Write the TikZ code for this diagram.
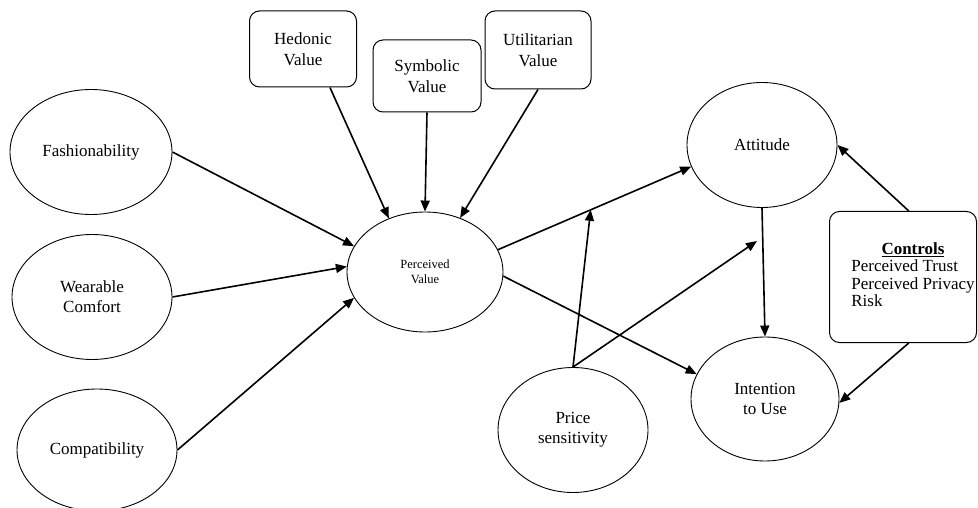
\documentclass[tikz,border=0pt]{standalone}
\usepackage{fontspec}
\setmainfont{Liberation Serif}
\usetikzlibrary{shapes.geometric,arrows.meta,calc}
\begin{document}
\begin{tikzpicture}[x=1pt,y=-1pt,
  ell/.style={draw, ellipse, line width=0.9pt, inner sep=0pt, align=center, font=\fontsize{17}{20}\selectfont},
  vbox/.style={draw, rounded corners=10pt, line width=1pt, inner sep=0pt, align=center, font=\fontsize{17}{21}\selectfont},
  conn/.style={line width=1.6pt, -{Triangle[length=11pt,width=9pt]}}
]
\useasboundingbox (0,0) rectangle (978,508);
% ellipses
\node[ell, minimum width=162pt, minimum height=125pt] (fash) at (91,152) {Fashionability};
\node[ell, minimum width=160pt, minimum height=125pt] (wc) at (92,297) {Wearable\\Comfort};
\node[ell, minimum width=160pt, minimum height=122pt] (comp) at (97,450) {Compatibility};
\node[ell, minimum width=156pt, minimum height=120pt, font=\fontsize{12.5}{15}\selectfont] (pv) at (425,272) {Perceived\\Value};
\node[ell, minimum width=150pt, minimum height=125pt] (att) at (762,145) {Attitude};
\node[ell, minimum width=148pt, minimum height=124pt] (int) at (765,399) {Intention\\to Use};
\node[ell, minimum width=150pt, minimum height=125pt] (ps) at (573,430) {Price\\sensitivity};
% boxes
\node[vbox, minimum width=107pt, minimum height=76pt] (hed) at (303,49) {Hedonic\\Value};
\node[vbox, minimum width=108pt, minimum height=72pt] (sym) at (427,76) {Symbolic\\Value};
\node[vbox, minimum width=106pt, minimum height=78pt] (util) at (538,50) {Utilitarian\\Value};
\node[vbox, minimum width=147pt, minimum height=131pt, font=\fontsize{17}{17.5}\selectfont] (ctrl) at (903,277)
  {\hspace*{20pt}\begin{tabular}{@{}l@{}}\multicolumn{1}{@{}c@{}}{\underline{\textbf{Controls}}}\\Perceived Trust\\Perceived Privacy\\Risk\end{tabular}};
% connectors
\draw[conn] (fash.east) -- (pv.160);
\draw[conn] (wc.east) -- (pv.176);
\draw[conn] (comp.east) -- (pv.200);
\draw[conn] (hed.-55) -- (pv.124);
\draw[conn] (sym.south) -- (pv.north);
\draw[conn] (util.south) -- (pv.57);
\draw[conn] (pv.17) -- coordinate[pos=0.48] (m1) (att.197);
\draw[conn] (pv.-3) -- (int.160);
\draw[conn] (ps.north) -- (m1);
\coordinate (m2) at (757,241);
\draw[conn] (ps.north) -- (m2);
\draw[conn] (att.south) -- (int.north);
\draw[conn] (ctrl.85) -- (att.east);
\draw[conn] (ctrl.-85) -- (int.-3);
\end{tikzpicture}
\end{document}
